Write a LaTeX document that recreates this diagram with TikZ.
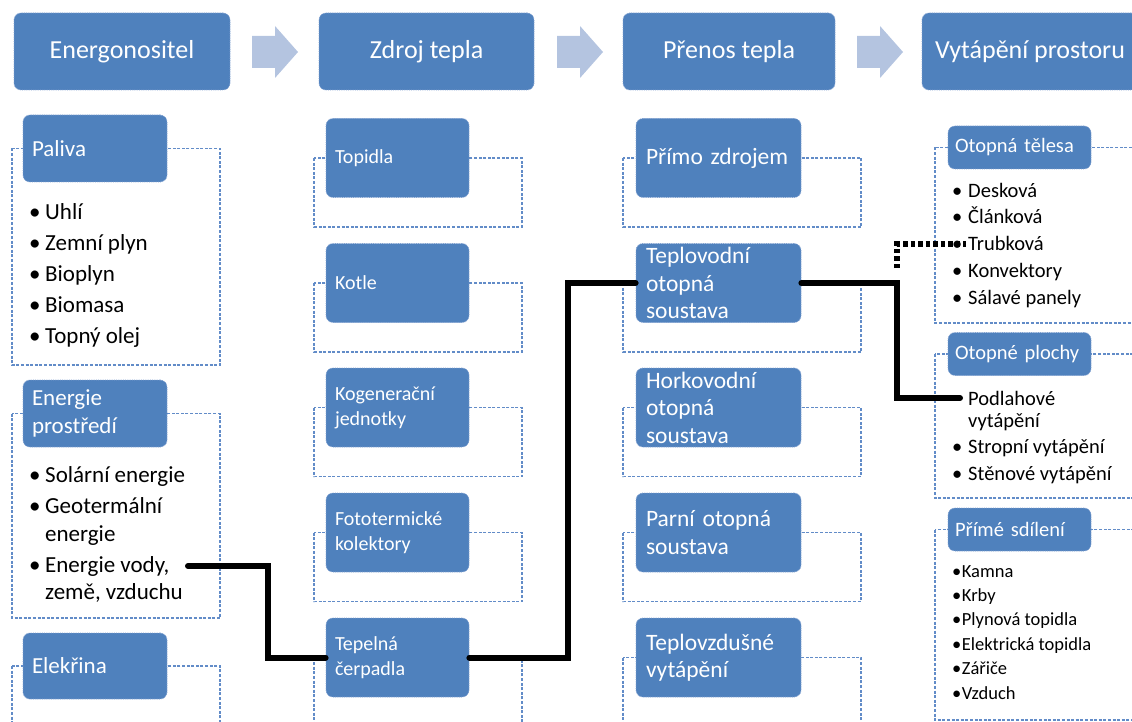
\documentclass[tikz,border=0pt]{standalone}
\usepackage{fontspec}
\setmainfont{Carlito}
\definecolor{boxblue}{RGB}{79,129,189}
\definecolor{boxedge}{RGB}{128,160,208}
\definecolor{ctrblue}{RGB}{98,140,200}
\definecolor{arrowc}{RGB}{180,196,224}
\tikzset{
  tile/.style={fill=boxblue, draw=boxedge, densely dotted, line width=0.8pt,
    rounded corners=7pt, text=white, inner xsep=0pt, inner ysep=0pt},
  hdr/.style={tile, minimum height=77pt, align=center,
    font=\fontsize{26}{30}\selectfont},
  tileA/.style={tile, minimum width=144pt, text width=126pt, align=left,
    font=\fontsize{23}{28}\selectfont},
  tileB/.style={tile, minimum width=143pt, minimum height=79pt, text width=125pt,
    align=left, font=\fontsize{20}{25}\selectfont},
  tileC/.style={tile, minimum width=165pt, minimum height=79pt, text width=145pt,
    align=left, font=\fontsize{23.5}{27.5}\selectfont},
  tileD/.style={tile, minimum width=143pt, minimum height=43pt, text width=129pt,
    align=left, font=\fontsize{20.5}{25}\selectfont},
  holder/.style={draw=ctrblue, dash pattern=on 3pt off 1.6pt, line width=1.1pt},
  itemA/.style={anchor=base west, inner sep=0pt, font=\fontsize{23}{28}\selectfont},
  itemD/.style={anchor=base west, inner sep=0pt, font=\fontsize{20.5}{25}\selectfont},
  itemE/.style={anchor=base west, inner sep=0pt, font=\fontsize{18.5}{22}\selectfont},
  link/.style={line width=6pt, line cap=round, line join=miter},
  dotlink/.style={line width=5.5pt, dash pattern=on 4.5pt off 3pt},
}
\begin{document}
\begin{tikzpicture}[x=1pt, y=-1pt]
\useasboundingbox (0,0) rectangle (1132,722);
\clip (0,0) rectangle (1132,722);

% block arrows between the header boxes
\foreach \ax in {252,557,857}
  \fill[arrowc] (\ax,36) -- (\ax+23,36) -- (\ax+23,26) -- (\ax+46,52)
     -- (\ax+23,78) -- (\ax+23,68) -- (\ax,68) -- cycle;

% dashed holders behind the tiles
\draw[holder] (12,148.5) rectangle (220,365);
\draw[holder] (12,413.5) rectangle (220,618);
\draw[holder] (12,666) rectangle (220,740);
\foreach \cy in {158,283,407.5,532.5} {
  \draw[holder] (314,\cy) rectangle (522,\cy+69);
  \draw[holder] (623,\cy) rectangle (861,\cy+69);
}
\draw[holder] (314,657.5) rectangle (522,740);
\draw[holder] (623,657.5) rectangle (861,740);
\draw[holder] (935,147.5) rectangle (1150,323);
\draw[holder] (935,354) rectangle (1150,498);
\draw[holder] (935,529.5) rectangle (1150,720);

% header row
\node[hdr, minimum width=216pt] (h1) at (122,51.5) {Energonositel};
\node[hdr, minimum width=215pt] (h2) at (426.5,51.5) {Zdroj tepla};
\node[hdr, minimum width=212pt] (h3) at (729,51.5) {Přenos tepla};
\node[hdr, minimum width=216pt] (h4) at (1030,51.5) {Vytápění prostoru};

% energy carriers
\node[tileA, minimum height=67pt] (pal) at (95,148.5) {Paliva};
\node[tileA, minimum height=67pt] (env) at (95,413.5) {Energie\\prostředí};
\node[tileA, minimum height=66pt] (ele) at (95,666) {Elekřina};
\foreach \t [count=\i] in {Uhlí,Zemní plyn,Bioplyn,Biomasa,Topný olej} {
  \node[itemA] (palb\i) at (29,219+31*\i-31) {•};
  \node[itemA] (pali\i) at (45,219+31*\i-31) {\t};
}
\node[itemA] (envb1) at (29,482) {•};
\node[itemA] (envi1) at (45,482) {Solární energie};
\node[itemA] (envb2) at (29,513) {•};
\node[itemA] (envi2) at (45,513) {Geotermální};
\node[itemA] (envi2b) at (45,541) {energie};
\node[itemA] (envb3) at (29,572) {•};
\node[itemA] (envi3) at (45,572) {Energie vody,};
\node[itemA] (envi3b) at (45,599) {země, vzduchu};

% heat sources
\node[tileB] (top) at (397.5,158) {Topidla};
\node[tileB] (kot) at (397.5,283) {Kotle};
\node[tileB] (kog) at (397.5,407.5) {Kogenerační\\jednotky};
\node[tileB] (fot) at (397.5,532.5) {Fototermické\\kolektory};
\node[tileB] (tep) at (397.5,657.5) {Tepelná\\čerpadla};

% heat transfer
\node[tileC] (pri) at (718.5,158) {Přímo zdrojem};
\node[tileC] (tpv) at (718.5,283) {Teplovodní\\otopná\\soustava};
\node[tileC] (hrk) at (718.5,407.5) {Horkovodní\\otopná\\soustava};
\node[tileC] (par) at (718.5,532.5) {Parní otopná\\soustava};
\node[tileC] (tvz) at (718.5,657.5) {Teplovzdušné\\vytápění};

% space heating
\node[tileD] (tel) at (1019.5,147.5) {Otopná tělesa};
\node[tileD] (plo) at (1019.5,354) {Otopné plochy};
\node[tileD] (sdi) at (1019.5,529.5) {Přímé sdílení};
\foreach \t [count=\i] in {Desková,Článková,Trubková,Konvektory,Sálavé panely} {
  \node[itemD] (telb\i) at (952,197+26.8*\i-26.8) {•};
  \node[itemD] (teli\i) at (968,197+26.8*\i-26.8) {\t};
}
\node[itemD] (ploi1) at (968,405) {Podlahové};
\node[itemD] (ploi1b) at (968,427) {vytápění};
\node[itemD] (plob2) at (952,453) {•};
\node[itemD] (ploi2) at (968,453) {Stropní vytápění};
\node[itemD] (plob3) at (952,480) {•};
\node[itemD] (ploi3) at (968,480) {Stěnové vytápění};
\foreach \t [count=\i] in {Kamna,Krby,Plynová topidla,Elektrická topidla,Zářiče,Vzduch}
  \node[itemE] (sdii\i) at (952,577+24.4*\i-24.4) {•\kern0.5pt\t};

% highlighted route
\coordinate (vody) at (188,566);
\coordinate (podl) at (960,398);
\coordinate (trubend) at (966,244);
\coordinate (trubstart) at (897,268);
\draw[link] (vody) -- (268,566) |- (tep.west);
\draw[link] (tep.east) -- (568,657.5) |- (tpv.west);
\draw[link] (tpv.east) -- (897,283) |- (podl);
\draw[dotlink] (trubstart) |- (trubend);
\end{tikzpicture}
\end{document}
